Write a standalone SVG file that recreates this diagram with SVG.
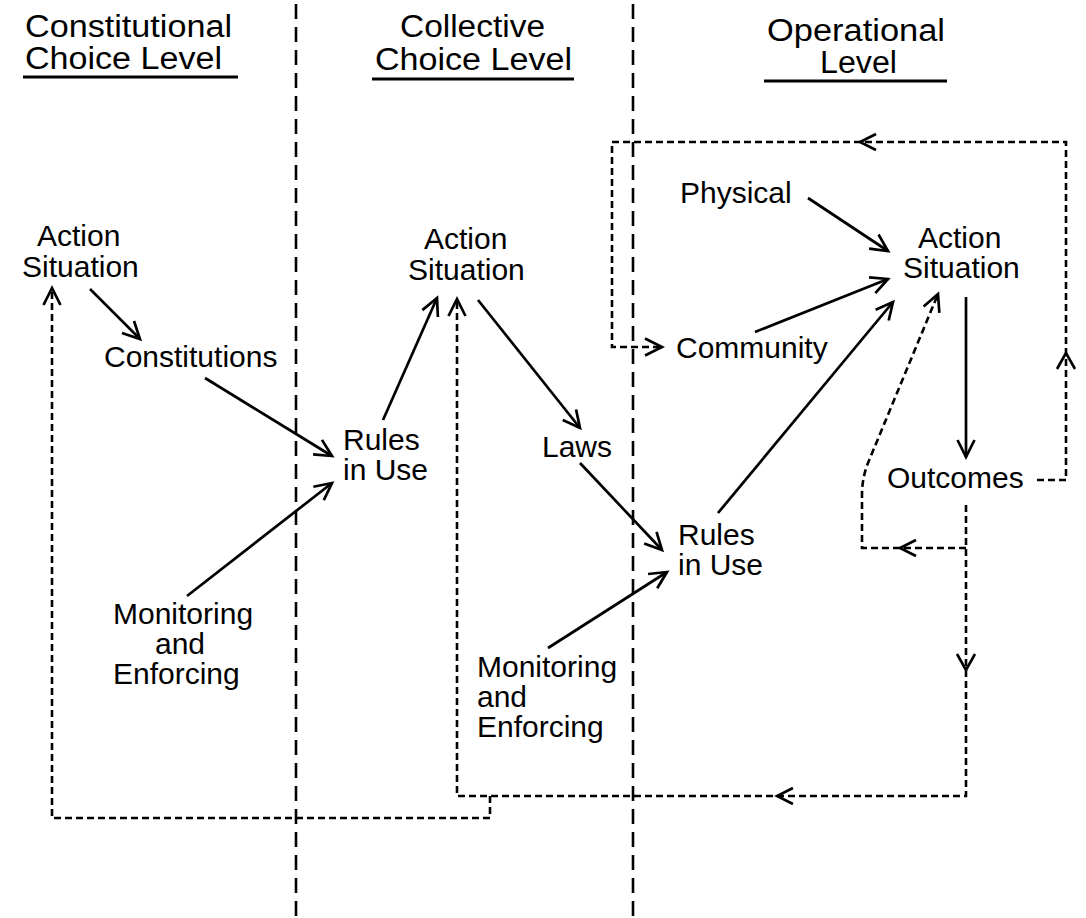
<svg xmlns="http://www.w3.org/2000/svg" width="1086" height="918" viewBox="0 0 1086 918">
<style>
text { font-family: "Liberation Sans", Arial, Helvetica, sans-serif; fill: #000; }
.h { font-size: 31px; }
.t { font-size: 30px; }
.ul { stroke: #000; stroke-width: 2.8; fill: none; }
.div { stroke: #000; stroke-width: 2.6; stroke-dasharray: 15 8; fill: none; }
.sol { stroke: #000; stroke-width: 2.7; fill: none; marker-end: url(#arr); }
.dot { stroke: #000; stroke-width: 2.6; stroke-dasharray: 7 4; fill: none; }
.dotA { stroke: #000; stroke-width: 2.6; stroke-dasharray: 7 4; fill: none; marker-end: url(#arr); }
.head { stroke: #000; stroke-width: 2.6; fill: none; stroke-linejoin: miter; }
</style>
<defs>
<marker id="arr" markerUnits="userSpaceOnUse" markerWidth="40" markerHeight="40" viewBox="-20 -20 40 40" refX="0" refY="0" orient="auto">
<path d="M-17,-8.5 L0,0 L-17,8.5" fill="none" stroke="#000" stroke-width="2.7" stroke-linejoin="miter"/>
</marker>
</defs>
<rect width="1086" height="918" fill="#fff"/>

<g id="dividers">
<line class="div" x1="296" y1="4" x2="296" y2="918"/>
<line class="div" x1="633" y1="4" x2="633" y2="918"/>
</g>

<g id="header-constitutional">
<text class="h" x="25" y="37" textLength="207" lengthAdjust="spacingAndGlyphs">Constitutional</text>
<text class="h" x="25" y="69" textLength="197" lengthAdjust="spacingAndGlyphs">Choice Level</text>
<line class="ul" x1="23" y1="77" x2="238" y2="77"/>
</g>
<g id="header-collective">
<text class="h" x="400" y="37" textLength="145" lengthAdjust="spacingAndGlyphs">Collective</text>
<text class="h" x="375" y="70" textLength="197" lengthAdjust="spacingAndGlyphs">Choice Level</text>
<line class="ul" x1="372" y1="79" x2="574" y2="79"/>
</g>
<g id="header-operational">
<text class="h" x="767" y="41" textLength="178" lengthAdjust="spacingAndGlyphs">Operational</text>
<text class="h" x="820" y="73" textLength="77" lengthAdjust="spacingAndGlyphs">Level</text>
<line class="ul" x1="764" y1="81" x2="947" y2="81"/>
</g>

<g id="node-action-situation-1">
<text class="t" x="37" y="246">Action</text>
<text class="t" x="22" y="277">Situation</text>
</g>
<g id="node-constitutions">
<text class="t" x="104" y="367">Constitutions</text>
</g>
<g id="node-rules-in-use-1">
<text class="t" x="343" y="450">Rules</text>
<text class="t" x="343" y="480">in Use</text>
</g>
<g id="node-monitoring-1">
<text class="t" x="113" y="624">Monitoring</text>
<text class="t" x="155" y="654">and</text>
<text class="t" x="113" y="684">Enforcing</text>
</g>
<g id="node-action-situation-2">
<text class="t" x="424" y="249">Action</text>
<text class="t" x="408" y="280">Situation</text>
</g>
<g id="node-laws">
<text class="t" x="542" y="457">Laws</text>
</g>
<g id="node-rules-in-use-2">
<text class="t" x="678" y="545">Rules</text>
<text class="t" x="678" y="575">in Use</text>
</g>
<g id="node-monitoring-2">
<text class="t" x="477" y="677">Monitoring</text>
<text class="t" x="477" y="707">and</text>
<text class="t" x="477" y="737">Enforcing</text>
</g>
<g id="node-physical">
<text class="t" x="680" y="203">Physical</text>
</g>
<g id="node-action-situation-3">
<text class="t" x="918" y="248">Action</text>
<text class="t" x="903" y="278">Situation</text>
</g>
<g id="node-community">
<text class="t" x="676" y="358">Community</text>
</g>
<g id="node-outcomes">
<text class="t" x="887" y="488">Outcomes</text>
</g>

<g id="connectors">
<line class="sol" x1="90" y1="289" x2="140" y2="339"/>
<line class="sol" x1="205" y1="378" x2="332" y2="456"/>
<line class="sol" x1="187" y1="596" x2="332" y2="483"/>
<line class="sol" x1="383" y1="420" x2="437" y2="298"/>
<line class="sol" x1="478" y1="300" x2="580" y2="428"/>
<line class="sol" x1="580" y1="463" x2="662" y2="550"/>
<line class="sol" x1="548" y1="648" x2="667" y2="572"/>
<line class="sol" x1="808" y1="198" x2="888" y2="251"/>
<line class="sol" x1="755" y1="332" x2="888" y2="279"/>
<line class="sol" x1="718" y1="513" x2="893" y2="302"/>
<line class="sol" x1="966" y1="297" x2="966" y2="457"/>

<path class="dotA" d="M1037,480 L1066,480 L1066,142 L612,142 L612,347 L662,347"/>
<path class="head" d="M1057,369 L1066,353 L1075,369"/>
<path class="head" d="M876,134 L860,142 L876,150"/>

<path class="dotA" d="M966,505 L966,796 L457,796 L457,299"/>
<path class="head" d="M957,654 L966,670 L975,654"/>
<path class="head" d="M793,788 L777,796 L793,804"/>

<path class="dotA" d="M490,796 L490,818 L52,818 L52,288"/>

<path class="dotA" d="M966,548 L862,548 L862,495 Q862,478 868,463 L938,294"/>
<path class="head" d="M916,540 L900,548 L916,556"/>
</g>
</svg>
